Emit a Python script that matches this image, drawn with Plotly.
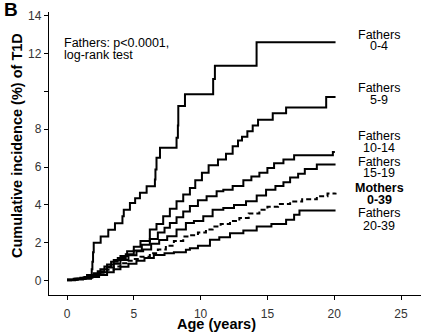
import plotly.graph_objects as go

# ---- data ----
f04_t = [0, 0.5, 1.0, 1.5, 1.85, 1.9, 1.95, 2.0, 2.52, 3.09, 3.59, 4.15, 4.25, 4.71, 5.1, 5.46, 5.96, 6.58, 6.62, 6.7, 6.96, 8.2, 8.3, 8.33, 8.83, 10.94, 11.07, 14.19, 20.1]
f04_y = [0.05, 0.1, 0.15, 0.3, 0.6, 1.0, 1.5, 2.0, 2.33, 2.69, 3.04, 3.4, 3.75, 4.1, 4.35, 4.64, 4.99, 5.34, 5.87, 6.49, 7.02, 7.55, 8.2, 9.23, 9.85, 10.65, 11.35, 12.6, 12.6]

f59_t = [0, 0.6, 1.2, 1.6, 2.0, 2.5, 3.0, 3.5, 4.0, 4.5, 5.0, 5.5, 6.2, 6.7, 7.2, 7.7, 8.2, 8.7, 9.2, 9.6, 10.1, 10.6, 11.3, 11.9, 12.4, 12.8, 13.1, 13.5, 13.9, 14.3, 15.4, 16.4, 19.4, 20.1]
f59_y = [0.05, 0.1, 0.15, 0.25, 0.4, 0.6, 0.85, 1.1, 1.3, 1.55, 1.8, 2.1, 2.7, 3.0, 3.4, 3.8, 4.2, 4.55, 4.9, 5.3, 5.7, 6.1, 6.4, 6.7, 7.1, 7.4, 7.6, 7.9, 8.2, 8.5, 8.85, 9.15, 9.7, 9.7]

f1014_t = [0, 0.7, 1.3, 1.8, 2.3, 2.8, 3.3, 3.8, 4.4, 5.0, 5.6, 6.2, 6.8, 7.3, 7.7, 8.2, 8.7, 9.2, 9.8, 10.45, 11.2, 11.7, 12.4, 13.2, 13.8, 14.4, 15.0, 15.5, 16.2, 17.0, 19.9, 20.05]
f1014_y = [0.05, 0.1, 0.2, 0.3, 0.5, 0.75, 1.0, 1.2, 1.4, 1.6, 1.9, 2.2, 2.55, 2.8, 3.05, 3.35, 3.65, 3.95, 4.25, 4.46, 4.72, 4.81, 5.0, 5.3, 5.5, 5.7, 5.95, 6.2, 6.4, 6.63, 6.8, 6.8]

f1519_t = [0, 0.8, 1.4, 1.9, 2.4, 3.0, 3.5, 4.0, 4.6, 5.2, 5.7, 6.3, 6.9, 7.5, 8.2, 8.9, 9.5, 10.2, 10.9, 11.7, 12.5, 13.4, 14.2, 14.9, 15.6, 16.2, 16.7, 17.3, 17.8, 18.7, 20.1]
f1519_y = [0.05, 0.1, 0.15, 0.25, 0.45, 0.7, 0.9, 1.1, 1.35, 1.55, 1.65, 1.95, 2.15, 2.35, 2.7, 3.05, 3.15, 3.4, 3.75, 3.84, 4.0, 4.2, 4.5, 4.8, 5.0, 5.2, 5.45, 5.65, 5.9, 6.14, 6.14]

m039_t = [0, 0.5, 1.0, 1.5, 2.0, 2.5, 3.0, 3.5, 4.0, 4.5, 5.0, 5.5, 6.2, 6.8, 7.4, 8.0, 8.7, 9.2, 9.8, 10.4, 10.9, 11.5, 12.2, 12.9, 13.6, 14.4, 15.0, 15.8, 16.7, 17.6, 18.7, 19.5, 20.1]
m039_y = [0.03, 0.08, 0.12, 0.2, 0.3, 0.42, 0.58, 0.75, 0.92, 1.05, 1.15, 1.27, 1.45, 1.65, 1.85, 2.1, 2.33, 2.4, 2.55, 2.7, 2.86, 3.0, 3.15, 3.31, 3.55, 3.75, 3.9, 4.05, 4.19, 4.3, 4.46, 4.6, 4.64]

f2039_t = [0, 0.6, 1.2, 1.8, 2.4, 3.0, 3.5, 4.0, 4.6, 5.2, 5.8, 6.5, 7.3, 8.0, 8.9, 9.2, 9.8, 10.7, 11.4, 12.2, 13.2, 14.2, 15.3, 16.4, 17.0, 17.4, 20.1]
f2039_y = [0.03, 0.06, 0.1, 0.2, 0.3, 0.45, 0.6, 0.74, 0.9, 1.05, 1.2, 1.36, 1.45, 1.5, 1.63, 1.72, 1.85, 2.16, 2.3, 2.51, 2.65, 2.86, 3.0, 3.22, 3.49, 3.71, 3.71]

x_ticks = [0, 5, 10, 15, 20, 25]
y_ticks = [0, 2, 4, 6, 8, 10, 12, 14]
y_tick_text = ["0", "2", "4", "6", "8", "", "12", "14"]

series = [
    (f04_t, f04_y, "solid"),
    (f59_t, f59_y, "solid"),
    (f1014_t, f1014_y, "solid"),
    (f1519_t, f1519_y, "solid"),
    (m039_t, m039_y, "5px,3px"),
    (f2039_t, f2039_y, "solid"),
]

fig = go.Figure()
for t, y, dash in series:
    fig.add_trace(go.Scatter(x=t, y=y, mode="lines", line=dict(color="black", width=2, shape="hv", dash=dash),
                             showlegend=False, hoverinfo="skip"))

W, H = 421, 332
L, R, T, B = 49, 0, 12, 37
PW, PH = W - L - R, H - T - B

def px(xp):
    return (xp - L) / PW

def py(yp):
    return (H - B - yp) / PH

FONT = "Liberation Sans, Arial, sans-serif"
ann = []

def add(text, xp, yp, size=12.5, bold=False, xanchor="center", angle=0, color="black"):
    ann.append(dict(text=("<b>%s</b>" % text) if bold else text, x=px(xp), y=py(yp), xref="paper", yref="paper",
                    showarrow=False, xanchor=xanchor, yanchor="middle", textangle=angle,
                    font=dict(family=FONT, size=size, color=color)))

add("B", 11, 10, size=19, bold=True)
add("Fathers: p<0.0001,", 62, 43, xanchor="left")
add("log-rank test", 62, 55, xanchor="left")
labels = [
    ("Fathers", "0-4", 35, 46.5, False),
    ("Fathers", "5-9", 88, 100, False),
    ("Fathers", "10-14", 136, 148, False),
    ("Fathers", "15-19", 161.5, 173, False),
    ("Mothers", "0-39", 188, 200, True),
    ("Fathers", "20-39", 213, 225.5, False),
]
for a, b, y1, y2, bold in labels:
    add(a, 379, y1, bold=bold)
    add(b, 379, y2, bold=bold)
add("Cumulative incidence (%) of T1D", 17, 146, size=14.5, bold=True, angle=-90)
add("Age (years)", 216, 324, size=14.5, bold=True)

xs, x0 = 13.36, 67
ys, y0 = 18.93, 280.7
fig.update_layout(
    width=W, height=H, margin=dict(l=L, r=R, t=T, b=B, pad=0),
    paper_bgcolor="white", plot_bgcolor="white",
    annotations=ann,
    xaxis=dict(range=[(L - x0) / xs, (W - x0) / xs], tickvals=x_ticks, showgrid=False, zeroline=False,
               showline=True, linecolor="black", linewidth=1.3, ticks="outside", ticklen=4, tickwidth=1.3,
               tickcolor="black", ticklabelstandoff=3, tickfont=dict(family=FONT, size=12, color="#333")),
    yaxis=dict(range=[(y0 - (H - B)) / ys, (y0 - T) / ys], tickvals=y_ticks, ticktext=y_tick_text,
               showgrid=False, zeroline=False, showline=True, linecolor="black", linewidth=1.3,
               ticks="outside", ticklen=4, tickwidth=1.3, tickcolor="black",
               tickfont=dict(family=FONT, size=12, color="#333")),
)
fig.write_html("out.html")
